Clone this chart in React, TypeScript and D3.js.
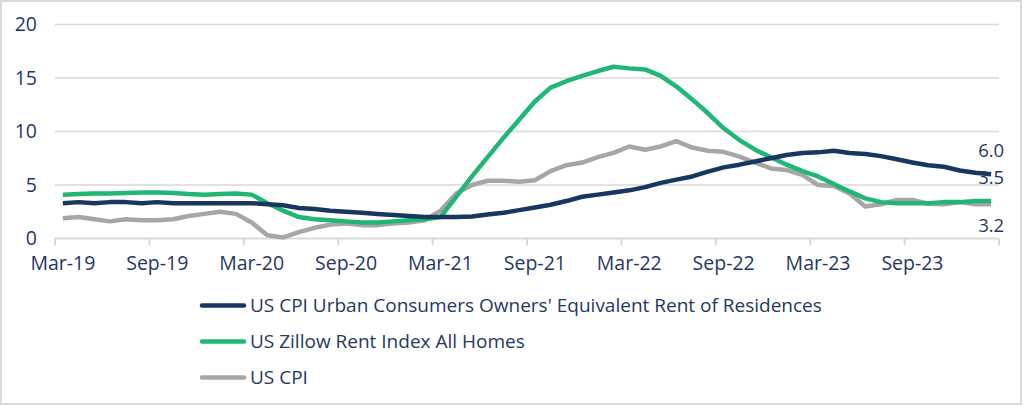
import React, { useEffect, useRef } from "react";
import * as d3 from "d3";

// monthly categories, Mar-19 .. Feb-24
const months = [
  "Mar-19", "Apr-19", "May-19", "Jun-19", "Jul-19", "Aug-19", "Sep-19", "Oct-19", "Nov-19", "Dec-19",
  "Jan-20", "Feb-20", "Mar-20", "Apr-20", "May-20", "Jun-20", "Jul-20", "Aug-20", "Sep-20", "Oct-20", "Nov-20", "Dec-20",
  "Jan-21", "Feb-21", "Mar-21", "Apr-21", "May-21", "Jun-21", "Jul-21", "Aug-21", "Sep-21", "Oct-21", "Nov-21", "Dec-21",
  "Jan-22", "Feb-22", "Mar-22", "Apr-22", "May-22", "Jun-22", "Jul-22", "Aug-22", "Sep-22", "Oct-22", "Nov-22", "Dec-22",
  "Jan-23", "Feb-23", "Mar-23", "Apr-23", "May-23", "Jun-23", "Jul-23", "Aug-23", "Sep-23", "Oct-23", "Nov-23", "Dec-23",
  "Jan-24", "Feb-24",
];

const oer = [
  3.3, 3.4, 3.3, 3.4, 3.4, 3.3, 3.4, 3.3, 3.3, 3.3,
  3.3, 3.3, 3.3, 3.2, 3.1, 2.85, 2.75, 2.6, 2.5, 2.4, 2.3, 2.2,
  2.1, 2.0, 2.0, 2.0, 2.05, 2.25, 2.4, 2.65, 2.9, 3.15, 3.5, 3.9,
  4.1, 4.3, 4.5, 4.8, 5.2, 5.5, 5.8, 6.25, 6.65, 6.9, 7.2, 7.5,
  7.8, 8.0, 8.05, 8.2, 8.0, 7.9, 7.7, 7.4, 7.1, 6.85, 6.7, 6.35,
  6.15, 6.0,
];

const zillow = [
  4.1, 4.15, 4.2, 4.2, 4.25, 4.3, 4.3, 4.25, 4.15, 4.1,
  4.15, 4.2, 4.1, 3.3, 2.6, 2.0, 1.8, 1.7, 1.6, 1.5, 1.5, 1.6,
  1.7, 1.8, 2.0, 3.9, 5.8, 7.6, 9.4, 11.1, 12.8, 14.1, 14.7, 15.2,
  15.65, 16.05, 15.9, 15.8, 15.2, 14.2, 13.0, 11.7, 10.3, 9.2, 8.3, 7.6,
  6.9, 6.3, 5.8, 5.1, 4.4, 3.75, 3.4, 3.3, 3.3, 3.3, 3.4, 3.4,
  3.5, 3.5,
];

const cpi = [
  1.9, 2.0, 1.8, 1.6, 1.8, 1.7, 1.7, 1.8, 2.1, 2.3,
  2.5, 2.3, 1.5, 0.3, 0.1, 0.6, 1.0, 1.3, 1.4, 1.25, 1.25, 1.4,
  1.5, 1.7, 2.6, 4.2, 5.0, 5.4, 5.4, 5.3, 5.45, 6.3, 6.85, 7.1,
  7.6, 8.0, 8.6, 8.3, 8.6, 9.1, 8.5, 8.2, 8.1, 7.65, 7.1, 6.55,
  6.4, 5.95, 5.0, 4.9, 4.2, 3.0, 3.2, 3.6, 3.6, 3.25, 3.2, 3.4,
  3.2, 3.2,
];

const yTicks = [0, 5, 10, 15, 20];

const seriesNames = [
  "US CPI Urban Consumers Owners' Equivalent Rent of Residences",
  "US Zillow Rent Index All Homes",
  "US CPI",
];

export default function App() {
  const ref = useRef<SVGSVGElement | null>(null);

  useEffect(() => {
    drawChart();
  }, []);

  function drawChart() {
    const W = 1024;
    const H = 406;
    const textColor = "#1f3864";
    const grid = "#d9d9d9";
    const font = "'Open Sans', Lato, sans-serif";

    const svg = d3.select(ref.current);
    svg.selectAll("*").remove();

    // outer frame
    svg
      .append("rect")
      .attr("x", 1)
      .attr("y", 1)
      .attr("width", W - 4)
      .attr("height", H - 3)
      .attr("fill", "#fff")
      .attr("stroke", grid)
      .attr("stroke-width", 2);

    const left = 55;
    const right = 999;
    const top = 24.5;
    const bottom = 238.5;

    const x = d3.scaleBand<string>().domain(months).range([left, right]).padding(0);
    const bw = x.bandwidth();
    const cx = (m: string) => (x(m) as number) + bw / 2;
    const y = d3.scaleLinear().domain([0, 20]).range([bottom, top]);

    // gridlines + y labels
    svg
      .append("g")
      .selectAll("line")
      .data(yTicks.filter((t) => t > 0))
      .join("line")
      .attr("x1", left)
      .attr("x2", right)
      .attr("y1", (d) => y(d))
      .attr("y2", (d) => y(d))
      .attr("stroke", grid)
      .attr("stroke-width", 1.5);

    svg
      .append("g")
      .selectAll("text")
      .data(yTicks)
      .join("text")
      .attr("x", 37)
      .attr("y", (d) => y(d))
      .attr("dy", "0.35em")
      .attr("text-anchor", "end")
      .attr("font-family", font)
      .attr("font-size", 19.5)
      .attr("fill", textColor)
      .text((d) => d);

    // x axis line and ticks between categories
    svg
      .append("line")
      .attr("x1", left)
      .attr("x2", right)
      .attr("y1", y(0))
      .attr("y2", y(0))
      .attr("stroke", grid)
      .attr("stroke-width", 2);

    const tickPos = months
      .filter((_, i) => i % 6 === 0)
      .map((m) => x(m) as number)
      .concat([right]);

    svg
      .append("g")
      .selectAll("line")
      .data(tickPos)
      .join("line")
      .attr("x1", (d) => d)
      .attr("x2", (d) => d)
      .attr("y1", y(0))
      .attr("y2", y(0) + 7)
      .attr("stroke", grid)
      .attr("stroke-width", 2);

    svg
      .append("g")
      .selectAll("text")
      .data(months.filter((_, i) => i % 6 === 0))
      .join("text")
      .attr("x", (d) => cx(d))
      .attr("y", 270)
      .attr("text-anchor", "middle")
      .attr("font-family", font)
      .attr("font-size", 19.5)
      .attr("fill", textColor)
      .text((d) => d);

    const series = [
      { name: seriesNames[0], values: oer, color: "#17375e", label: "above" },
      { name: seriesNames[1], values: zillow, color: "#20b673", label: "above" },
      { name: seriesNames[2], values: cpi, color: "#a6a6a6", label: "below" },
    ];

    const line = d3
      .line<number>()
      .x((d, i) => cx(months[i]))
      .y((d) => y(d));

    // draw gray first, then green, navy on top
    [2, 1, 0].forEach((k) => {
      const s = series[k];
      svg
        .append("path")
        .datum(s.values)
        .attr("fill", "none")
        .attr("stroke", s.color)
        .attr("stroke-width", 4.5)
        .attr("stroke-linejoin", "round")
        .attr("d", line);
    });

    // end labels
    series.forEach((s) => {
      const last = s.values[s.values.length - 1];
      const px = cx(months[months.length - 1]);
      const py = y(last);
      svg
        .append("text")
        .attr("x", px)
        .attr("y", s.label === "above" ? py - 17 : py + 28)
        .attr("text-anchor", "middle")
        .attr("font-family", font)
        .attr("font-size", 18.5)
        .attr("fill", textColor)
        .text(d3.format(".1f")(last));
    });

    // legend
    const lg = svg.append("g");
    series.forEach((s, i) => {
      const ly = 305.5 + i * 36;
      lg.append("line")
        .attr("x1", 202)
        .attr("x2", 244)
        .attr("y1", ly)
        .attr("y2", ly)
        .attr("stroke", s.color)
        .attr("stroke-width", 4.5)
        .attr("stroke-linecap", "round");
      lg.append("text")
        .attr("x", 250)
        .attr("y", ly)
        .attr("dy", "0.35em")
        .attr("font-family", font)
        .attr("font-size", 19)
        .attr("fill", textColor)
        .text(s.name);
    });
  }

  return (
    <svg
      ref={ref}
      width={1024}
      height={406}
      style={{ position: "absolute", left: 0, top: 0, display: "block" }}
    />
  );
}
